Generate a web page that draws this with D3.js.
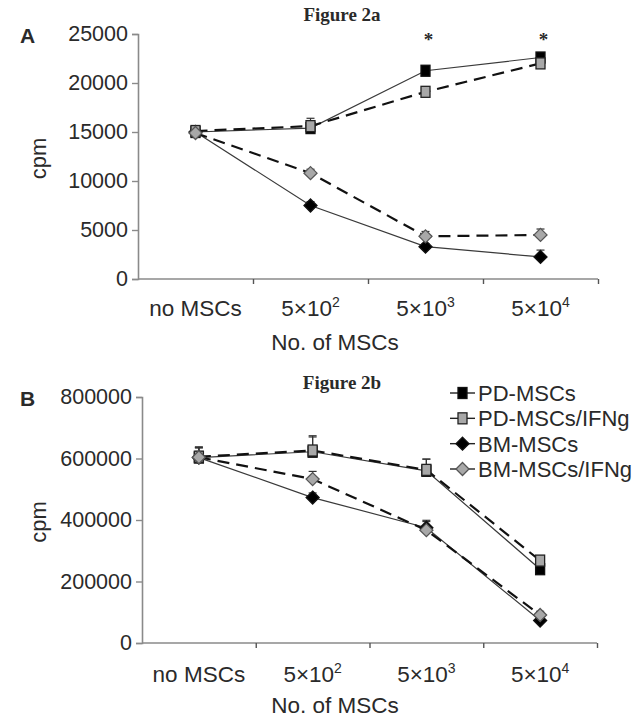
<!DOCTYPE html>
<html>
<head>
<meta charset="utf-8">
<script src="https://cdn.jsdelivr.net/npm/d3@7"></script>
<style>
  body { margin: 0; background: #fff; }
  svg text { font-family: 'Liberation Sans', Arial, sans-serif; fill: #2a2a2a; }
</style>
</head>
<body>
<script>
var categories = ['no MSCs', '5×10|2', '5×10|3', '5×10|4']
var seriesNames = ['PD-MSCs', 'PD-MSCs/IFNg', 'BM-MSCs', 'BM-MSCs/IFNg']

// figure 2a
var aPD = [15000, 15400, 21250, 22600]
var aPDIfn = [15100, 15600, 19100, 22000]
var aBM = [15000, 7500, 3300, 2250]
var aBMIfn = [14900, 10800, 4350, 4500]
var aPDErr = [300, 400, 500, 300]
var aPDIfnErr = [300, 800, 400, 300]
var aBMErr = [300, 400, 300, 700]
var aBMIfnErr = [300, 400, 500, 600]
var aTicks = [0, 5000, 10000, 15000, 20000, 25000]
var aStars = [2, 3]

// figure 2b
var bPD = [603000, 622000, 560000, 240000]
var bPDIfn = [606000, 626000, 563000, 268000]
var bBM = [603000, 473000, 375000, 73000]
var bBMIfn = [604000, 533000, 367000, 91000]
var bPDErr = [35000, 48000, 38000, 15000]
var bPDIfnErr = [30000, 48000, 35000, 15000]
var bBMErr = [20000, 15000, 20000, 10000]
var bBMIfnErr = [30000, 25000, 32000, 12000]
var bTicks = [0, 200000, 400000, 600000, 800000]

var styles = [
    {fill: '#000', stroke: '#111', shape: 'square', dash: null, lw: 1.2, lc: '#3a3a3a'},
    {fill: '#a8a8a8', stroke: '#222', shape: 'square', dash: '12,7', lw: 2.2, lc: '#111'},
    {fill: '#000', stroke: '#111', shape: 'diamond', dash: null, lw: 1.2, lc: '#3a3a3a'},
    {fill: '#a8a8a8', stroke: '#555', shape: 'diamond', dash: '12,7', lw: 2.2, lc: '#111'}
]

var svg = d3.select('body').append('svg').attr('width', 641).attr('height', 719)

function marker(g, shape, x, y, st) {
    if (shape == 'square') {
        g.append('rect').attr('x', x - 4.5).attr('y', y - 5.5).attr('width', 9).attr('height', 11)
            .attr('fill', st.fill).attr('stroke', st.stroke).attr('stroke-width', 1.3)
    } else {
        var s = 6.5
        g.append('path').attr('d', 'M' + x + ',' + (y - s) + 'L' + (x + s) + ',' + y + 'L' + x + ',' + (y + s) + 'L' + (x - s) + ',' + y + 'Z')
            .attr('fill', st.fill).attr('stroke', st.stroke).attr('stroke-width', 1.3)
    }
}

function catLabel(sel, c) {
    var parts = c.split('|')
    sel.text(parts[0])
    if (parts[1]) sel.append('tspan').attr('dy', -9).style('font-size', '14px').text(parts[1])
}

function panel(opt) {
    var g = svg.append('g')
    var x = d3.scaleBand().domain(categories).range([opt.x0, opt.x1]).padding(0)
    var xt = d3.scaleLinear().domain([0, 4]).range([opt.x0, opt.x1])
    var y = d3.scaleLinear().domain([0, opt.max]).range([opt.y0, opt.y1])

    // y axis
    var ya = g.append('g').attr('transform', 'translate(' + opt.x0 + ',0)')
        .call(d3.axisLeft(y).tickValues(opt.ticks).tickSize(6).tickPadding(4).tickFormat(d3.format('d')))
    ya.select('.domain').attr('stroke', '#8a8a8a').attr('stroke-width', 1.6)
    ya.selectAll('.tick line').attr('stroke', '#8a8a8a').attr('stroke-width', 1.4)
    ya.selectAll('.tick text').style('font-size', '21.5px').attr('fill', '#2a2a2a')

    // x axis
    var xa = g.append('g').attr('transform', 'translate(0,' + opt.y0 + ')')
        .call(d3.axisBottom(xt).tickValues([1, 2, 3, 4]).tickSize(5).tickFormat(''))
    xa.select('.domain').attr('stroke', '#8a8a8a').attr('stroke-width', 1.6).attr('d', 'M' + opt.x0 + ',0H' + opt.x1)
    xa.selectAll('.tick line').attr('stroke', '#555').attr('stroke-width', 1.4)

    g.selectAll('text.cat').data(categories).enter().append('text').attr('class', 'cat')
        .attr('x', function (d) { return x(d) + x.bandwidth() / 2 })
        .attr('y', opt.y0 + opt.catDy)
        .attr('text-anchor', 'middle').style('font-size', '22.5px')
        .each(function (d) { catLabel(d3.select(this), d) })

    g.append('text').attr('x', 335).attr('y', opt.y0 + opt.catDy + opt.titleDy).attr('text-anchor', 'middle')
        .style('font-size', '22.5px').text('No. of MSCs')
    g.append('text').attr('transform', 'translate(46,' + ((opt.y0 + opt.y1) / 2 + 2) + ') rotate(-90)')
        .attr('text-anchor', 'middle').style('font-size', '22px').text('cpm')
    g.append('text').attr('x', 20).attr('y', opt.y1 + 9).style('font-size', '21px').style('font-weight', 'bold').text(opt.letter)
    g.append('text').attr('x', 342).attr('y', opt.titleY).attr('text-anchor', 'middle')
        .style('font-family', "'Liberation Serif', serif").style('font-weight', 'bold').style('font-size', '19px')
        .attr('fill', '#000').text(opt.title)

    var cx = function (i) { return x(categories[i]) + x.bandwidth() / 2 }
    var line = d3.line().x(function (d, i) { return cx(i) }).y(function (d) { return y(d) })

    // lines: solid first, then dashed on top
    var order = [0, 2, 1, 3]
    order.forEach(function (k) {
        var st = styles[k]
        g.append('path').attr('d', line(opt.data[k])).attr('fill', 'none')
            .attr('stroke', st.lc).attr('stroke-width', st.lw)
            .attr('stroke-dasharray', st.dash)
    })
    // error bars
    order.forEach(function (k) {
        opt.data[k].forEach(function (v, i) {
            var e = opt.err[k][i]
            g.append('line').attr('x1', cx(i)).attr('x2', cx(i)).attr('y1', y(v)).attr('y2', y(v + e))
                .attr('stroke', '#333').attr('stroke-width', 1.2)
            g.append('line').attr('x1', cx(i) - 4).attr('x2', cx(i) + 4).attr('y1', y(v + e)).attr('y2', y(v + e))
                .attr('stroke', '#333').attr('stroke-width', 1.2)
        })
    })
    order.forEach(function (k) {
        opt.data[k].forEach(function (v, i) { marker(g, styles[k].shape, cx(i), y(v), styles[k]) })
    })
    if (opt.stars) {
        opt.stars.forEach(function (i) {
            g.append('text').attr('x', cx(i) + 3).attr('y', opt.y1 + 12).attr('text-anchor', 'middle')
                .style('font-family', "'Liberation Serif', serif").style('font-size', '19px').style('font-weight', 'bold')
                .attr('fill', '#111').text('*')
        })
    }
    return g
}

panel({x0: 138, x1: 598, y0: 279, y1: 34, max: 25000, ticks: aTicks, letter: 'A', title: 'Figure 2a', titleY: 21, catDy: 37, titleDy: 34,
    data: [aPD, aPDIfn, aBM, aBMIfn], err: [aPDErr, aPDIfnErr, aBMErr, aBMIfnErr], stars: aStars})
panel({x0: 142, x1: 597, y0: 643, y1: 397, max: 800000, ticks: bTicks, letter: 'B', title: 'Figure 2b', titleY: 389, catDy: 39, titleDy: 31,
    data: [bPD, bPDIfn, bBM, bBMIfn], err: [bPDErr, bPDIfnErr, bBMErr, bBMIfnErr]})

// legend
var leg = svg.append('g')
var ly = d3.scalePoint().domain(seriesNames).range([393, 469])
seriesNames.forEach(function (n, k) {
    var yy = ly(n)
    leg.append('line').attr('x1', 450).attr('x2', 475).attr('y1', yy).attr('y2', yy).attr('stroke', '#222').attr('stroke-width', 1.4)
    marker(leg, styles[k].shape, 462.5, yy, styles[k])
    leg.append('text').attr('x', 478).attr('y', yy + 8).style('font-size', '22px').text(n)
})
</script>
</body>
</html>
